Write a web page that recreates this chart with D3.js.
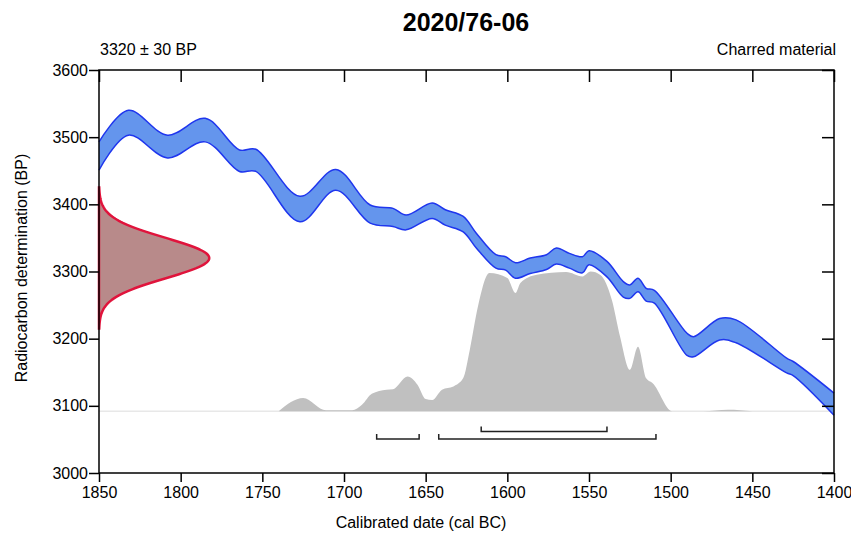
<!DOCTYPE html>
<html>
<head>
<meta charset="utf-8">
<script src="https://cdn.jsdelivr.net/npm/d3@7"></script>
<style>
  body { margin: 0; background: #fff; }
  text { font-family: "Liberation Sans", Arial, sans-serif; }
</style>
</head>
<body>
<svg width="851" height="534"></svg>
<script>
// sample info
var sampleName = '2020/76-06';
var measLabel = '3320 \u00b1 30 BP';
var materialLabel = 'Charred material';
var measMean = 3320, measSigma = 30;

var xTicks = [1850, 1800, 1750, 1700, 1650, 1600, 1550, 1500, 1450, 1400];
var yTicks = [3000, 3100, 3200, 3300, 3400, 3500, 3600];

// calibration curve band (cal BC, upper / lower BP)
var curveYears = [1850, 1832, 1808, 1785, 1764, 1754, 1727, 1705, 1684, 1670, 1662, 1646, 1638, 1627, 1619, 1607, 1601, 1595, 1586, 1576, 1570, 1562, 1554, 1550, 1539, 1529, 1525, 1520, 1515, 1510, 1490, 1486, 1470, 1460, 1429, 1425, 1400];
var curveUpper = [3493, 3540, 3503, 3528, 3481, 3482, 3412, 3452, 3399, 3394, 3384, 3402, 3392, 3382, 3357, 3325, 3322, 3313, 3320, 3325, 3335, 3327, 3322, 3331, 3315, 3285, 3280, 3290, 3275, 3272, 3208, 3203, 3230, 3228, 3171, 3166, 3119];
var curveLower = [3451, 3503, 3469, 3493, 3449, 3449, 3374, 3421, 3372, 3367, 3362, 3379, 3369, 3359, 3335, 3305, 3302, 3290, 3297, 3303, 3311, 3305, 3298, 3310, 3292, 3262, 3260, 3270, 3256, 3253, 3175, 3173, 3198, 3194, 3149, 3145, 3086];

// calibrated probability (relative)
var probYears = [1740, 1725, 1711, 1695, 1689, 1683, 1674, 1670, 1661, 1655, 1650, 1646, 1640, 1633, 1627, 1623, 1618, 1611, 1600, 1595, 1592, 1582, 1564, 1554, 1549, 1543, 1536, 1531, 1525, 1520, 1515, 1511, 1499, 1480, 1465, 1450];
var probValues = [0, 0.094, 0.006, 0.006, 0.046, 0.125, 0.154, 0.158, 0.249, 0.19, 0.087, 0.08, 0.154, 0.177, 0.237, 0.439, 0.749, 0.989, 0.953, 0.846, 0.918, 0.977, 0.996, 0.965, 1.0, 0.975, 0.796, 0.535, 0.296, 0.461, 0.236, 0.201, 0, 0, 0.01, 0];

// highest posterior density ranges
var range68 = [[1616, 1539]];
var range95 = [[1680, 1654], [1642, 1509]];

var svg = d3.select('svg');
var x = d3.scaleLinear().domain([1850, 1400]).range([99, 834]);
var y = d3.scaleLinear().domain([3000, 3600]).range([473, 70]);
var yProb = d3.scaleLinear().domain([0, 1]).range([y(3092), y(3300)]);
var xDens = d3.scaleLinear().domain([0, 1]).range([x(1850), x(1782.5)]);

// baseline for probability
svg.append('line')
	.attr('x1', x(1850)).attr('x2', x(1400))
	.attr('y1', yProb(0)).attr('y2', yProb(0))
	.attr('stroke', '#e8e8e8').attr('stroke-width', 1.5);

var probData = probYears.map(function(d, i){ return {year: d, p: probValues[i]}; });
svg.append('path')
	.datum(probData)
	.attr('fill', '#c0c0c0')
	.attr('d', d3.area()
		.x(function(d){ return x(d.year); })
		.y0(yProb(0))
		.y1(function(d){ return yProb(d.p); })
		.curve(d3.curveMonotoneX));

// calibration curve
var curveData = curveYears.map(function(d, i){ return {year: d, hi: curveUpper[i], lo: curveLower[i]}; });
var bandCurve = d3.curveCatmullRom.alpha(0.5);
svg.append('path')
	.datum(curveData)
	.attr('fill', '#6495ed')
	.attr('d', d3.area()
		.x(function(d){ return x(d.year); })
		.y0(function(d){ return y(d.lo); })
		.y1(function(d){ return y(d.hi); })
		.curve(bandCurve));
['hi', 'lo'].forEach(function(k){
	svg.append('path')
		.datum(curveData)
		.attr('fill', 'none')
		.attr('stroke', '#1f36ee')
		.attr('stroke-width', 1.5)
		.attr('d', d3.line()
			.x(function(d){ return x(d.year); })
			.y(function(d){ return y(d[k]); })
			.curve(bandCurve));
});

// measurement distribution
var densData = d3.range(-3.5, 3.51, 0.05).map(function(z){
	return {bp: measMean + z * measSigma, dens: Math.exp(-z * z / 2)};
});
svg.append('path')
	.datum(densData)
	.attr('fill', '#b88a8a')
	.attr('stroke', '#e0143c')
	.attr('stroke-width', 2.5)
	.attr('d', d3.area()
		.y(function(d){ return y(d.bp); })
		.x0(xDens(0))
		.x1(function(d){ return xDens(d.dens); }));

// range bars
function drawRanges(data, yPos) {
	var g = svg.append('g');
	data.forEach(function(r){
		g.append('path')
			.attr('fill', 'none')
			.attr('stroke', '#222')
			.attr('stroke-width', 1.5)
			.attr('d', 'M' + x(r[0]) + ',' + (yPos - 5) + 'V' + yPos + 'H' + x(r[1]) + 'V' + (yPos - 5));
	});
}
drawRanges(range68, 431.5);
drawRanges(range95, 439);

// frame and axes
svg.append('rect')
	.attr('x', x(1850)).attr('y', y(3600))
	.attr('width', x(1400) - x(1850)).attr('height', y(3000) - y(3600))
	.attr('fill', 'none').attr('stroke', '#000').attr('stroke-width', 1.5);

var axisB = svg.append('g').attr('transform', 'translate(0,' + y(3000) + ')')
	.call(d3.axisBottom(x).tickValues(xTicks).tickFormat(d3.format('d')).tickSize(9).tickPadding(5));
var axisT = svg.append('g').attr('transform', 'translate(0,' + y(3600) + ')')
	.call(d3.axisBottom(x).tickValues(xTicks).tickFormat('').tickSize(12));
var axisL = svg.append('g').attr('transform', 'translate(' + x(1850) + ',0)')
	.call(d3.axisLeft(y).tickValues(yTicks).tickFormat(d3.format('d')).tickSize(10).tickPadding(1));
var axisR = svg.append('g').attr('transform', 'translate(' + x(1400) + ',0)')
	.call(d3.axisLeft(y).tickValues(yTicks).tickFormat('').tickSize(12));

[axisB, axisT, axisL, axisR].forEach(function(a){
	a.select('.domain').remove();
	a.selectAll('line').attr('stroke', '#000').attr('stroke-width', 1.5);
	a.selectAll('text').attr('fill', '#000').style('font-size', '16px').style('font-family', '"Liberation Sans", Arial, sans-serif');
});

// titles
svg.append('text')
	.attr('x', 466).attr('y', 31)
	.attr('text-anchor', 'middle')
	.style('font-size', '25px').style('font-weight', 'bold')
	.text(sampleName);
svg.append('text')
	.attr('x', 100).attr('y', 55)
	.style('font-size', '16px')
	.text(measLabel);
svg.append('text')
	.attr('x', 836).attr('y', 55)
	.attr('text-anchor', 'end')
	.style('font-size', '16px')
	.text(materialLabel);
svg.append('text')
	.attr('x', 421).attr('y', 528)
	.attr('text-anchor', 'middle')
	.style('font-size', '16px')
	.text('Calibrated date (cal BC)');
svg.append('text')
	.attr('transform', 'translate(27,268) rotate(-90)')
	.attr('text-anchor', 'middle')
	.style('font-size', '16px')
	.text('Radiocarbon determination (BP)');
</script>
</body>
</html>
